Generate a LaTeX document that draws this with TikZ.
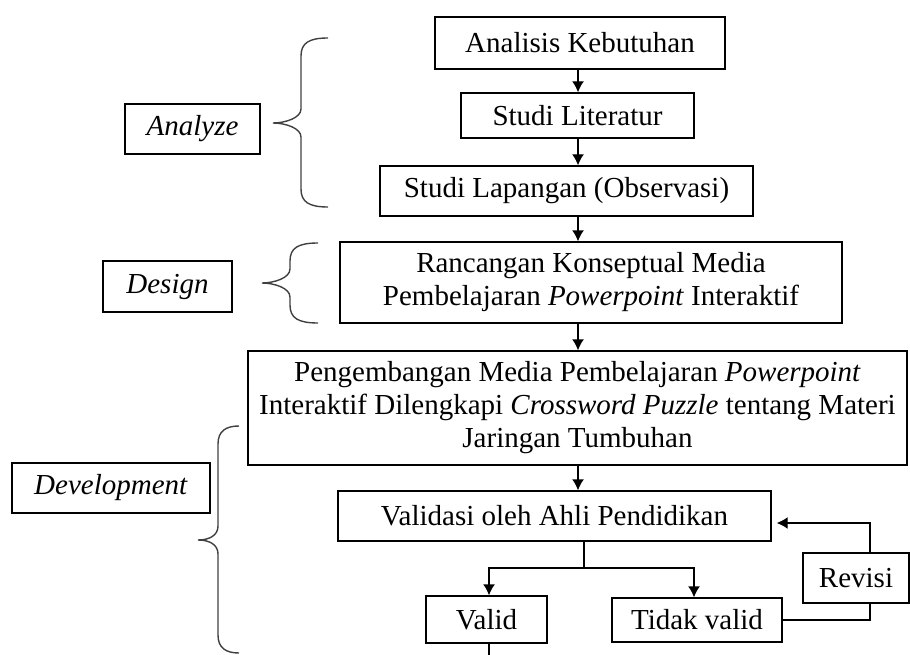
\documentclass[tikz,border=0pt]{standalone}
\usepackage{fontspec}
\setmainfont{Liberation Serif}
\usetikzlibrary{arrows.meta}
\newcommand\curlybr[6]{% #1 end x, #2 vertical x, #3 tip x, #4 top y, #5 tip y, #6 bottom y
  \draw[brc] (#1,#4) .. controls ({#2+8},#4) and (#2,{#4+5}) .. (#2,{#4+18})
    -- (#2,{#5-14}) .. controls (#2,{#5-5}) and ({#3+12},#5) .. (#3,#5)
    .. controls ({#3+12},#5) and (#2,{#5+5}) .. (#2,{#5+14})
    -- (#2,{#6-18}) .. controls (#2,{#6-5}) and ({#2+8},#6) .. (#1,#6);}
\begin{document}
\begin{tikzpicture}[x=1pt,y=-1pt,
  box/.style={draw, line width=1.4pt, inner sep=0pt, align=center,
    font=\fontsize{29}{33}\selectfont},
  arr/.style={line width=1.4pt, -{Latex[length=11pt,width=12pt]}},
  ln/.style={line width=1.4pt},
  brc/.style={line width=1.4pt, black!75}]
\useasboundingbox (0,0) rectangle (910,655);
% main boxes
\node[box, minimum width=290pt, minimum height=52pt] (ak) at (580,43) {Analisis Kebutuhan};
\node[box, minimum width=233pt, minimum height=45pt] (sl) at (577.5,115.5) {Studi Literatur};
\node[box, minimum width=373pt, minimum height=50pt] (slap) at (566.5,191) {Studi Lapangan (Observasi)};
\node[box, minimum width=502pt, minimum height=81pt] (rk) at (591,282.5) {Rancangan Konseptual Media\\Pembelajaran \textit{Powerpoint} Interaktif};
\node[box, minimum width=659pt, minimum height=114pt] (peng) at (577.5,408) {Pengembangan Media Pembelajaran \textit{Powerpoint}\\Interaktif Dilengkapi \textit{Crossword Puzzle} tentang Materi\\Jaringan Tumbuhan};
\node[box, minimum width=433pt, minimum height=50pt] (val) at (554.5,516) {Validasi oleh Ahli Pendidikan};
\node[box, minimum width=121pt, minimum height=47pt] (valid) at (486.5,619.5) {Valid};
\node[box, minimum width=170pt, minimum height=44pt] (tv) at (697,620) {Tidak valid};
\node[box, minimum width=106pt, minimum height=50pt] (rev) at (856,578) {Revisi};
% phase labels
\node[box, minimum width=135pt, minimum height=50pt] (an) at (192.5,129) {\textit{Analyze}};
\node[box, minimum width=129pt, minimum height=51pt] (de) at (167.5,286.5) {\textit{Design}};
\node[box, minimum width=198pt, minimum height=50pt] (dev) at (111,488) {\textit{Development}};
% braces
\curlybr{328}{301}{273}{38}{123}{207}
\curlybr{318}{290}{262}{243}{283}{323}
\curlybr{239}{218}{198}{426}{540}{653}
% connectors
\coordinate (sp) at (578,0);
\draw[arr] (sp |- ak.south) -- (sp |- sl.north);
\draw[arr] (sp |- sl.south) -- (sp |- slap.north);
\draw[arr] (sp |- slap.south) -- (sp |- rk.north);
\draw[arr] (sp |- rk.south) -- (sp |- peng.north);
\draw[arr] (sp |- peng.south) -- (sp |- val.north);
\coordinate (br) at (584,568);
\coordinate (bl) at (489,568);
\coordinate (brr) at (694,568);
\draw[ln] (br |- val.south) -- (br);
\draw[arr] (br) -- (bl) -- (bl |- valid.north);
\draw[arr] (br) -- (brr) -- (brr |- tv.north);
\coordinate (vb) at (489,660);
\draw[ln] (bl |- valid.south) -- (vb);
\coordinate (rx) at (870,620);
\draw[ln] (tv.east) -- (tv.east -| rx) -- (rx |- rev.south);
\coordinate (fb) at (870,523);
\draw[arr, shorten >=5pt] (rx |- rev.north) -- (fb) -- (fb -| val.east);
\end{tikzpicture}
\end{document}
